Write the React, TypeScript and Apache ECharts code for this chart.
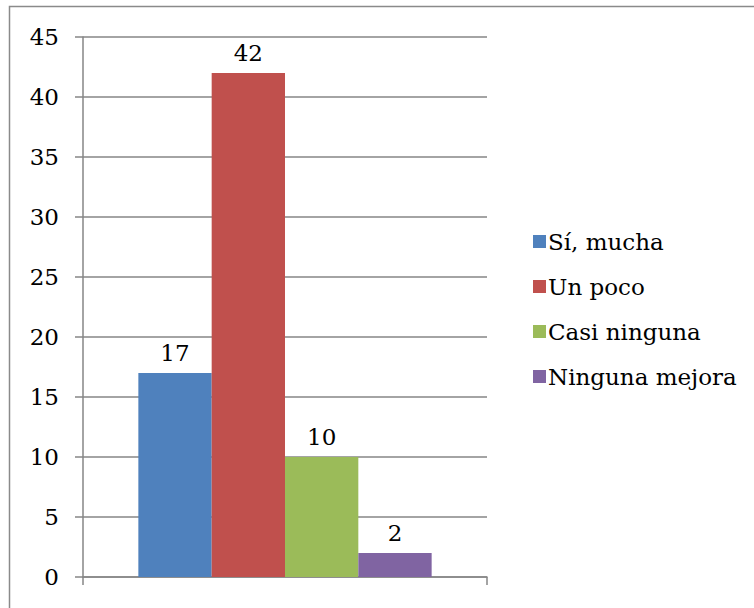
import React, { useEffect, useRef } from "react";
import * as echarts from "echarts";

const categories = [""];
const seriesNames = ["Sí, mucha", "Un poco", "Casi ninguna", "Ninguna mejora"];
const seriesValues = [17, 42, 10, 2];
const seriesColors = ["#4F81BD", "#C0504D", "#9BBB59", "#8064A2"];

const FONT = "DejaVu Serif";

export default function App() {
  const ref = useRef<HTMLDivElement>(null);
  useEffect(() => {
    if (!ref.current) return;
    const chart = echarts.init(ref.current, undefined, { renderer: "svg" });
    chart.setOption({
      animation: false,
      backgroundColor: "#ffffff",
      textStyle: { fontFamily: FONT },
      graphic: [
        {
          type: "rect",
          shape: { x: 9.5, y: 6.5, width: 800, height: 700 },
          style: { fill: "none", stroke: "#8a8a8a", lineWidth: 1.5 },
          silent: true,
        },
      ],
      grid: { left: 83, right: 267, top: 37, bottom: 31, containLabel: false },
      legend: {
        orient: "vertical",
        left: 528,
        top: 225,
        itemWidth: 13,
        itemHeight: 13,
        itemGap: 22,
        icon: "rect",
        textStyle: { fontFamily: FONT, fontSize: 23, color: "#000", padding: [0, 0, 0, -3] },
        data: seriesNames,
      },
      xAxis: {
        type: "category",
        data: categories,
        axisLine: { lineStyle: { color: "#868686", width: 1.5 } },
        axisTick: { show: true, length: 8, alignWithLabel: false, lineStyle: { color: "#868686", width: 1.5 } },
        axisLabel: { show: false },
      },
      yAxis: {
        type: "value",
        min: 0,
        max: 45,
        interval: 5,
        axisLine: { show: true, lineStyle: { color: "#868686", width: 1.5 } },
        axisTick: { show: true, length: 8, lineStyle: { color: "#868686", width: 1.5 } },
        axisLabel: { fontFamily: FONT, fontSize: 23, color: "#000", margin: 24 },
        splitLine: { show: true, lineStyle: { color: "#868686", width: 1.5 } },
      },
      series: seriesNames.map((name, i) => ({
        name,
        type: "bar",
        data: [seriesValues[i]],
        barGap: "0%",
        barCategoryGap: "27.4%",
        itemStyle: { color: seriesColors[i] },
        label: {
          show: true,
          position: "top",
          distance: 9,
          fontFamily: FONT,
          fontSize: 23,
          color: "#000",
        },
      })),
    });
    return () => chart.dispose();
  }, []);
  return (
    <div
      ref={ref}
      style={{ position: "fixed", left: 0, top: 0, width: 754, height: 608 }}
    />
  );
}
